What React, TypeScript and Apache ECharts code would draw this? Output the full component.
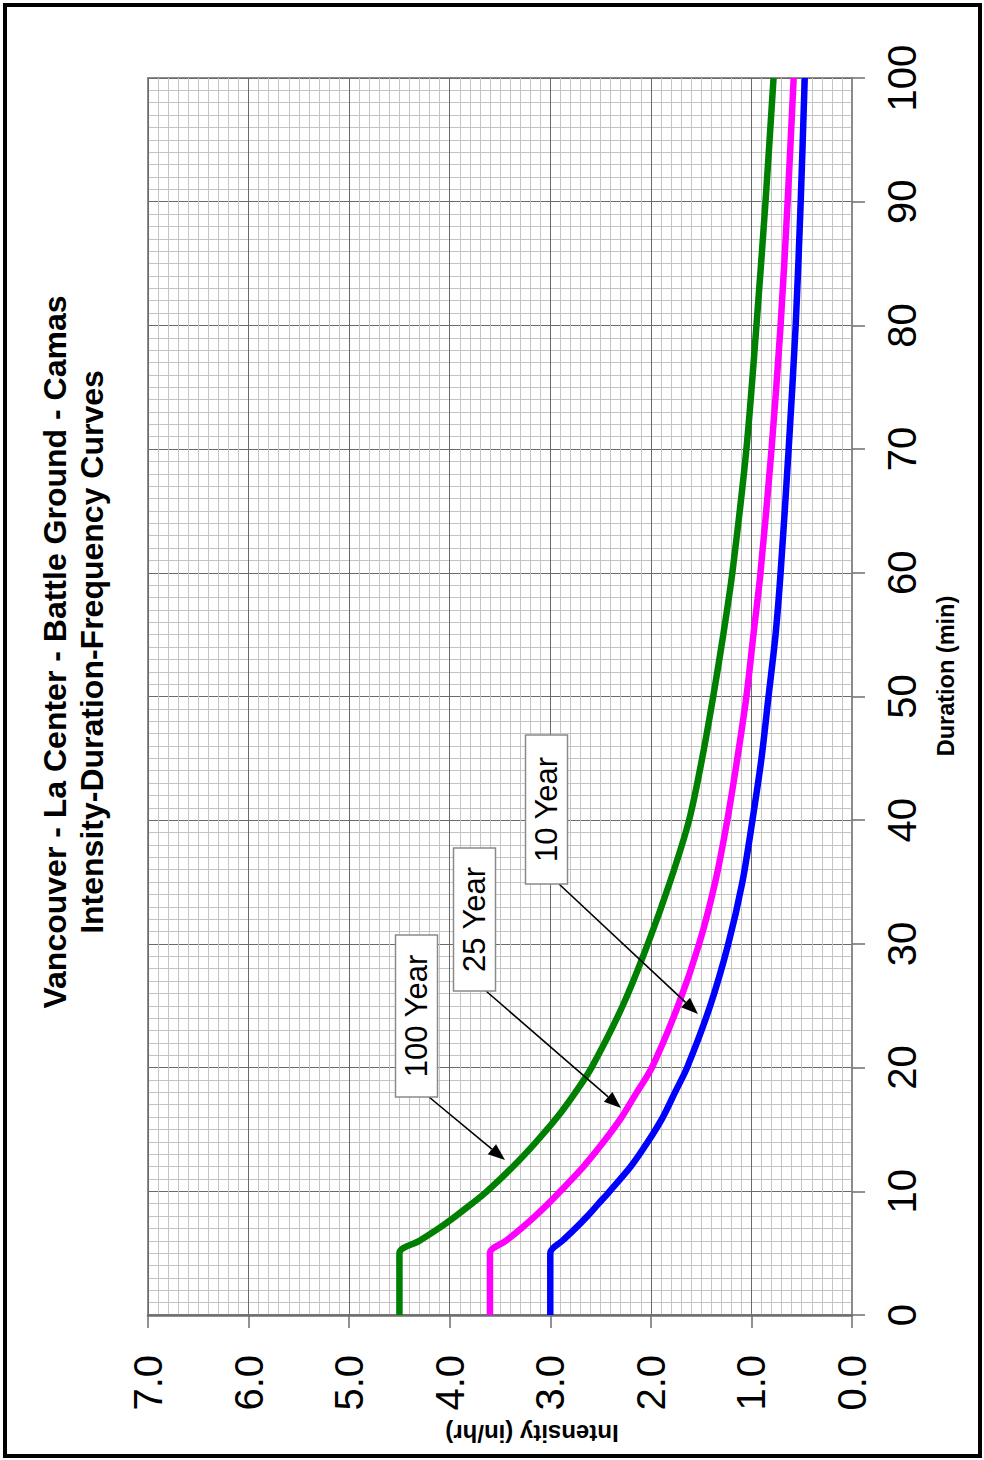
import React, { useEffect, useRef } from "react";
import * as echarts from "echarts";

// Duration (min) at which intensities were read
const durations = [0, 5, 6, 7, 8, 9, 10, 12, 14, 16, 18, 20, 25, 30, 35, 40, 45, 50, 55, 60, 70, 80, 90, 100];
// Intensity (in/hr) per return period
const year10 = [3.0, 3.0, 2.88, 2.75, 2.63, 2.52, 2.41, 2.2, 2.03, 1.88, 1.76, 1.64, 1.41, 1.23, 1.09, 0.99, 0.9, 0.83, 0.76, 0.71, 0.63, 0.56, 0.51, 0.47];
const year25 = [3.6, 3.6, 3.44, 3.29, 3.15, 3.02, 2.9, 2.67, 2.47, 2.29, 2.14, 1.99, 1.73, 1.52, 1.36, 1.24, 1.14, 1.05, 0.98, 0.91, 0.8, 0.71, 0.64, 0.58];
const year100 = [4.5, 4.5, 4.3, 4.11, 3.94, 3.78, 3.63, 3.37, 3.14, 2.93, 2.75, 2.59, 2.28, 2.03, 1.81, 1.62, 1.49, 1.38, 1.28, 1.19, 1.05, 0.95, 0.86, 0.78];

const seriesNames = ["10 Year", "25 Year", "100 Year"];
const titleLines = ["Vancouver - La Center - Battle Ground - Camas", "Intensity-Duration-Frequency Curves"];
const xName = "Intensity (in/hr)";
const yName = "Duration (min)";

const FONT = "'Liberation Sans', Arial, Helvetica, sans-serif";

function arrow(x1: number, y1: number, x2: number, y2: number) {
  const dx = x2 - x1;
  const dy = y2 - y1;
  const len = Math.sqrt(dx * dx + dy * dy);
  const ux = dx / len;
  const uy = dy / len;
  const hl = 17;
  const hw = 6.5;
  const bx = x2 - ux * hl;
  const by = y2 - uy * hl;
  return [
    {
      type: "line",
      z: 50,
      shape: { x1, y1, x2: bx, y2: by },
      style: { stroke: "#000", lineWidth: 1.6 },
    },
    {
      type: "polygon",
      z: 50,
      shape: {
        points: [
          [x2, y2],
          [bx - uy * hw, by + ux * hw],
          [bx + uy * hw, by - ux * hw],
        ],
      },
      style: { fill: "#000" },
    },
  ];
}

function labelBox(text: string, x: number, y: number, w: number, h: number) {
  return [
    {
      type: "rect",
      z: 60,
      shape: { x, y, width: w, height: h },
      style: { fill: "#fff", stroke: "#8a8a8a", lineWidth: 1.5 },
    },
    {
      type: "text",
      z: 61,
      x: x + w / 2,
      y: y + h / 2,
      rotation: Math.PI / 2,
      style: {
        text,
        fill: "#000",
        font: `31px ${FONT}`,
        align: "center",
        verticalAlign: "middle",
      },
    },
  ];
}

export default function App() {
  const ref = useRef<HTMLDivElement>(null);
  useEffect(() => {
    if (!ref.current) return;
    const chart = echarts.init(ref.current, null, { renderer: "svg" });
    const mk = (vals: number[], name: string, color: string) => ({
      type: "line",
      name,
      data: durations.map((d, i) => [vals[i], d]),
      showSymbol: false,
      symbol: "none",
      smooth: 0.3,
      lineStyle: { color, width: 6.5 },
      itemStyle: { color },
      z: 5,
    });
    chart.setOption({
      animation: false,
      backgroundColor: "#fff",
      grid: {
        left: 148,
        right: 132,
        top: 78,
        bottom: 145,
        show: true,
        borderColor: "#8c8c8c",
        borderWidth: 2,
        backgroundColor: "#fff",
      },
      xAxis: {
        type: "value",
        min: 0,
        max: 7,
        interval: 1,
        inverse: true,
        position: "bottom",
        axisLine: { show: true, lineStyle: { color: "#6e6e6e", width: 2.5 } },
        axisTick: { show: true, length: 13, lineStyle: { color: "#6e6e6e", width: 1.5 } },
        axisLabel: {
          rotate: 90,
          margin: 40,
          fontSize: 40,
          fontFamily: FONT,
          color: "#000",
          formatter: (v: number) => v.toFixed(1),
        },
        splitLine: { show: true, lineStyle: { color: "#6a6a6a", width: 1 } },
        minorTick: { show: false, splitNumber: 10 },
        minorSplitLine: { show: true, lineStyle: { color: "#c4c4c4", width: 1 } },
      },
      yAxis: {
        type: "value",
        min: 0,
        max: 100,
        interval: 10,
        position: "right",
        axisLine: { show: true, lineStyle: { color: "#8c8c8c", width: 2 } },
        axisTick: { show: true, length: 13, lineStyle: { color: "#6e6e6e", width: 1.5 } },
        axisLabel: {
          rotate: 90,
          margin: 30,
          fontSize: 40,
          fontFamily: FONT,
          color: "#000",
        },
        splitLine: { show: true, lineStyle: { color: "#6a6a6a", width: 1 } },
        minorTick: { show: false, splitNumber: 10 },
        minorSplitLine: { show: true, lineStyle: { color: "#c4c4c4", width: 1 } },
      },
      series: [
        mk(year10, seriesNames[0], "#0000ff"),
        mk(year25, seriesNames[1], "#ff00ff"),
        mk(year100, seriesNames[2], "#008000"),
      ],
      graphic: [
        {
          type: "rect",
          z: 100,
          silent: true,
          shape: { x: 5, y: 5, width: 975, height: 1451 },
          style: { fill: "none", stroke: "#000", lineWidth: 4 },
        },
        {
          type: "text",
          z: 40,
          x: 55,
          y: 652,
          rotation: Math.PI / 2,
          style: {
            text: titleLines[0],
            fill: "#000",
            font: `bold 32px ${FONT}`,
            align: "center",
            verticalAlign: "middle",
          },
        },
        {
          type: "text",
          z: 40,
          x: 92,
          y: 652,
          rotation: Math.PI / 2,
          style: {
            text: titleLines[1],
            fill: "#000",
            font: `bold 32px ${FONT}`,
            align: "center",
            verticalAlign: "middle",
          },
        },
        {
          type: "text",
          z: 40,
          x: 946,
          y: 676,
          rotation: Math.PI / 2,
          style: {
            text: yName,
            fill: "#000",
            font: `bold 23.5px ${FONT}`,
            align: "center",
            verticalAlign: "middle",
          },
        },
        {
          type: "text",
          z: 40,
          x: 532,
          y: 1433,
          rotation: Math.PI,
          style: {
            text: xName,
            fill: "#000",
            font: `bold 24px ${FONT}`,
            align: "center",
            verticalAlign: "middle",
          },
        },
        ...arrow(429, 1097, 505, 1160),
        ...arrow(486, 991, 621, 1108),
        ...arrow(559, 884, 698, 1014),
        ...labelBox(seriesNames[2], 395.5, 935, 42, 162),
        ...labelBox(seriesNames[1], 453.5, 848, 42, 143),
        ...labelBox(seriesNames[0], 525.5, 735, 42, 149),
      ],
    });
    return () => chart.dispose();
  }, []);
  return (
    <div
      ref={ref}
      style={{ position: "absolute", left: 0, top: 0, width: 984, height: 1460, background: "#fff" }}
    />
  );
}
